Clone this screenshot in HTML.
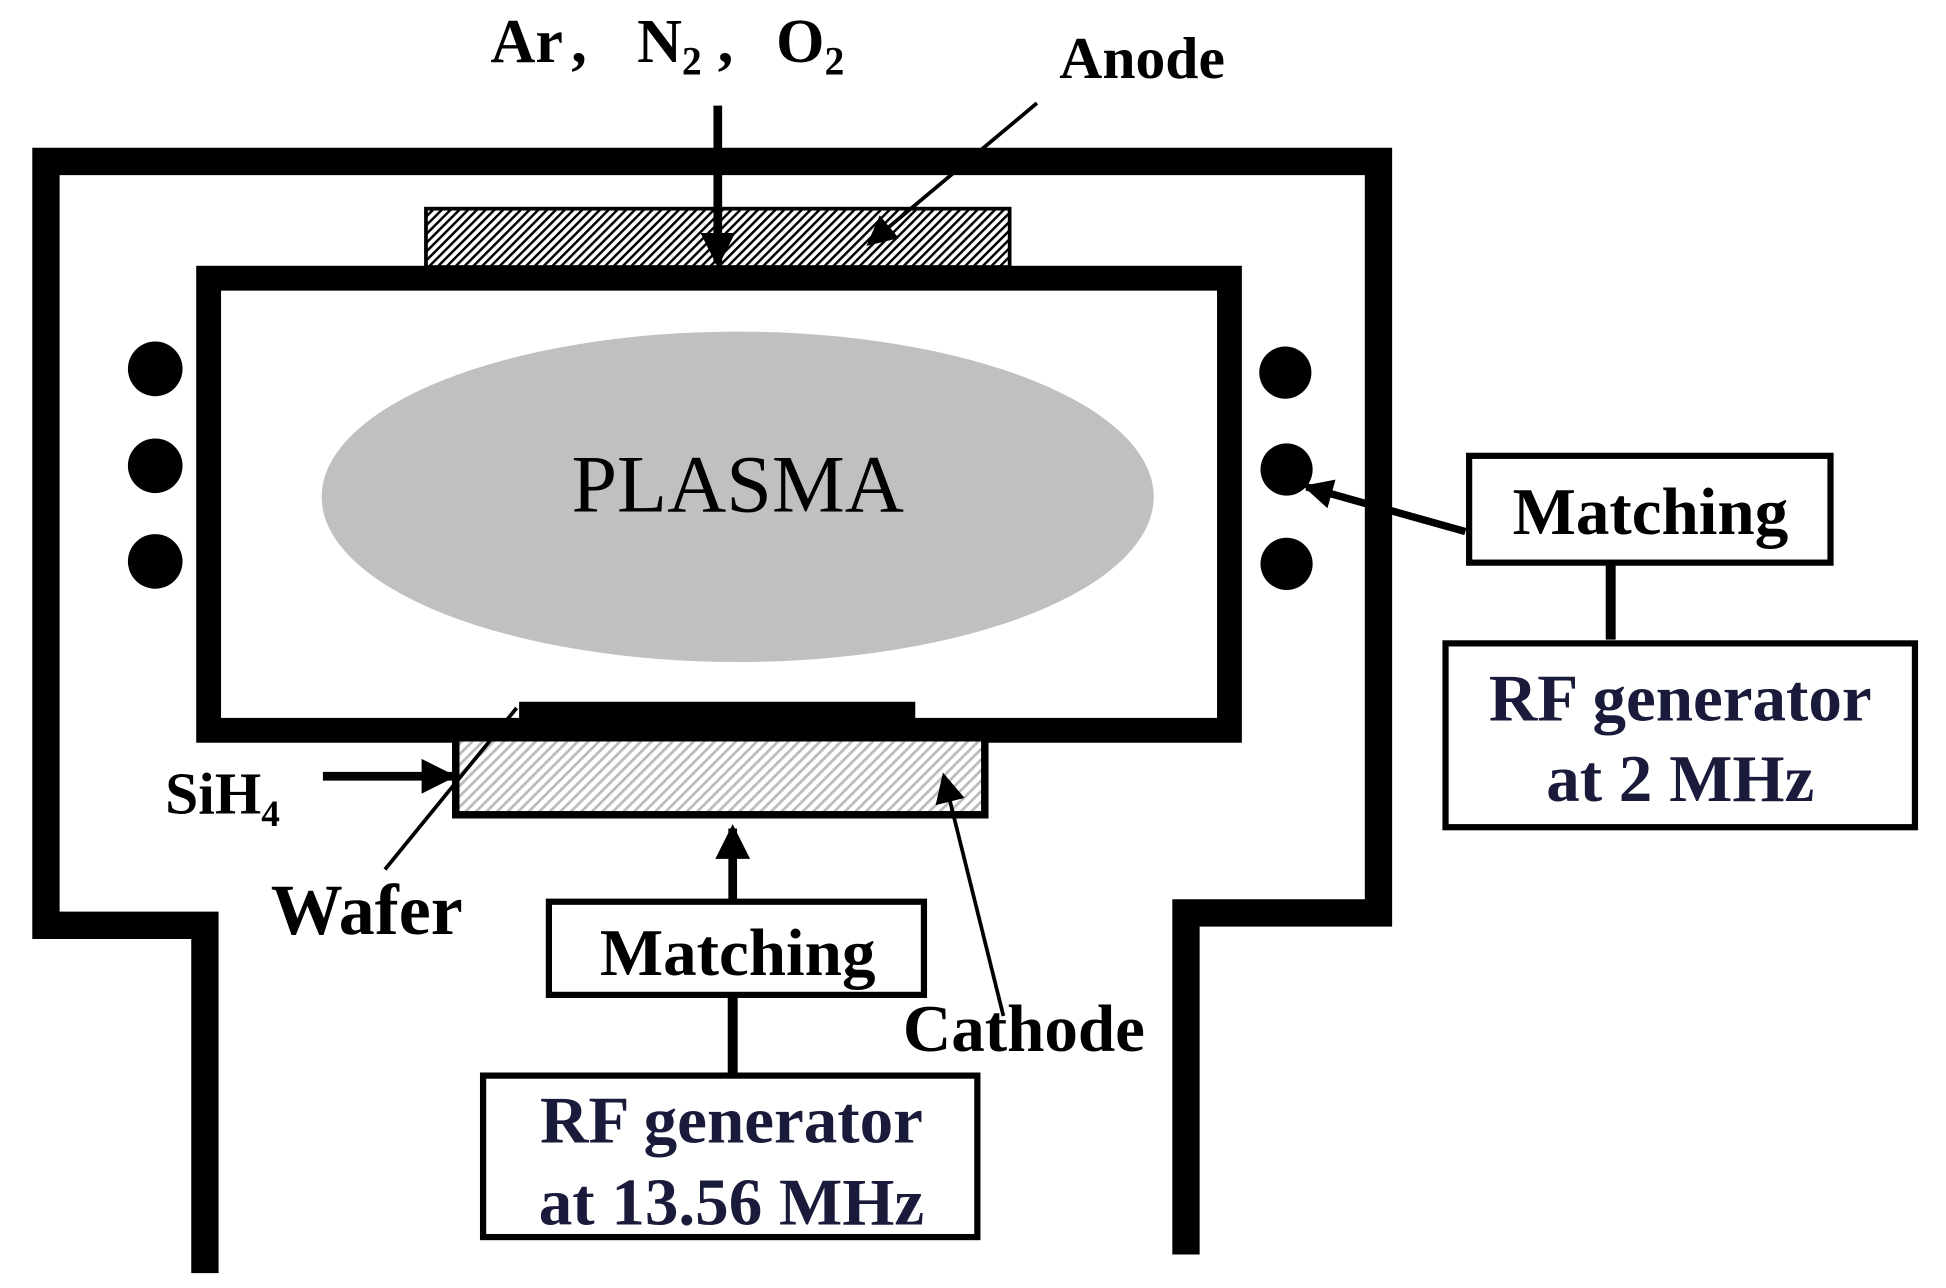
<!DOCTYPE html>
<html><head><meta charset="utf-8"><style>html,body{margin:0;padding:0;background:#fff}svg{display:block}</style></head>
<body>
<svg width="1946" height="1288" viewBox="0 0 1567 1037" preserveAspectRatio="none" xmlns="http://www.w3.org/2000/svg">
<defs>
<pattern id="h1" width="5" height="5" patternUnits="userSpaceOnUse" patternTransform="rotate(45)">
<rect width="5" height="5" fill="#fff"/><rect width="2" height="5" fill="#000"/></pattern>
<pattern id="h2" width="6" height="6" patternUnits="userSpaceOnUse" patternTransform="rotate(45)">
<rect width="6" height="6" fill="#fff"/><rect width="2.2" height="6" fill="#bbb"/></pattern>
<marker id="a" markerWidth="4" markerHeight="4" refX="3.5" refY="2" orient="auto" markerUnits="strokeWidth"><path d="M0,0 L4,2 L0,4 z" fill="#000"/></marker>
<marker id="b" markerWidth="8" markerHeight="8" refX="7" refY="4" orient="auto" markerUnits="strokeWidth"><path d="M0,0 L8,4 L0,8 z" fill="#000"/></marker>
</defs>
<g font-family="Liberation Serif, serif" font-weight="bold">
<path d="M165,1025 V745 H37 V130 H1110 V735 H955 V1010" fill="none" stroke="#000" stroke-width="22"/>
<rect x="343" y="168" width="470" height="47" fill="url(#h1)" stroke="#000" stroke-width="3"/>
<rect x="168" y="224" width="822" height="364" fill="none" stroke="#000" stroke-width="20"/>
<ellipse cx="594" cy="400" rx="335" ry="133" fill="#c0c0c0"/>
<text x="594" y="412" font-size="66" font-weight="normal" text-anchor="middle">PLASMA</text>
<g fill="#000"><circle cx="125" cy="297" r="22"/><circle cx="125" cy="375" r="22"/><circle cx="125" cy="452" r="22"/>
<circle cx="1035" cy="300" r="21"/><circle cx="1036" cy="378" r="21"/><circle cx="1036" cy="454" r="21"/></g>
<rect x="367" y="594" width="426" height="62" fill="url(#h2)" stroke="#000" stroke-width="6"/>
<rect x="418" y="565" width="319" height="20" fill="#000"/>
<line x1="578" y1="85" x2="578" y2="212" stroke="#000" stroke-width="7" marker-end="url(#a)"/>
<line x1="835" y1="83" x2="700" y2="196" stroke="#000" stroke-width="3" marker-end="url(#b)"/>
<text x="395" y="50" font-size="50">Ar</text>
<text x="460" y="50" font-size="50">,</text>
<text x="513" y="50" font-size="50">N<tspan font-size="32" dy="10">2</tspan></text>
<text x="578" y="50" font-size="50">,</text>
<text x="625" y="50" font-size="50">O<tspan font-size="32" dy="10">2</tspan></text>
<text x="853" y="63" font-size="48">Anode</text>
<rect x="1183" y="367" width="291" height="86" fill="#fff" stroke="#000" stroke-width="5"/>
<text x="1329" y="430" font-size="54" text-anchor="middle">Matching</text>
<line x1="1297" y1="453" x2="1297" y2="515" stroke="#000" stroke-width="8"/>
<rect x="1164" y="518" width="378" height="148" fill="#fff" stroke="#000" stroke-width="5"/>
<text x="1353" y="580" font-size="54" text-anchor="middle" fill="#1a1a3a">RF generator</text>
<text x="1353" y="645" font-size="54" text-anchor="middle" fill="#1a1a3a">at 2 MHz</text>
<line x1="1180" y1="428" x2="1052" y2="392" stroke="#000" stroke-width="6" marker-end="url(#a)"/>
<rect x="442" y="726" width="302" height="75" fill="#fff" stroke="#000" stroke-width="5"/>
<text x="594" y="785" font-size="54" text-anchor="middle">Matching</text>
<line x1="590" y1="726" x2="590" y2="667" stroke="#000" stroke-width="7" marker-end="url(#a)"/>
<line x1="590" y1="801" x2="590" y2="865" stroke="#000" stroke-width="8"/>
<rect x="389" y="866" width="398" height="130" fill="#fff" stroke="#000" stroke-width="5"/>
<text x="589" y="920" font-size="54" text-anchor="middle" fill="#1a1a3a">RF generator</text>
<text x="589" y="986" font-size="54" text-anchor="middle" fill="#1a1a3a">at 13.56 MHz</text>
<line x1="260" y1="625" x2="364" y2="625" stroke="#000" stroke-width="7" marker-end="url(#a)"/>
<text x="133" y="655" font-size="48">SiH<tspan font-size="30" dy="10">4</tspan></text>
<line x1="310" y1="700" x2="416" y2="570" stroke="#000" stroke-width="3"/>
<text x="218" y="752" font-size="58">Wafer</text>
<line x1="808" y1="818" x2="760" y2="625" stroke="#000" stroke-width="3" marker-end="url(#b)"/>
<text x="727" y="846" font-size="54">Cathode</text>
</g>
</svg>
</body></html>
